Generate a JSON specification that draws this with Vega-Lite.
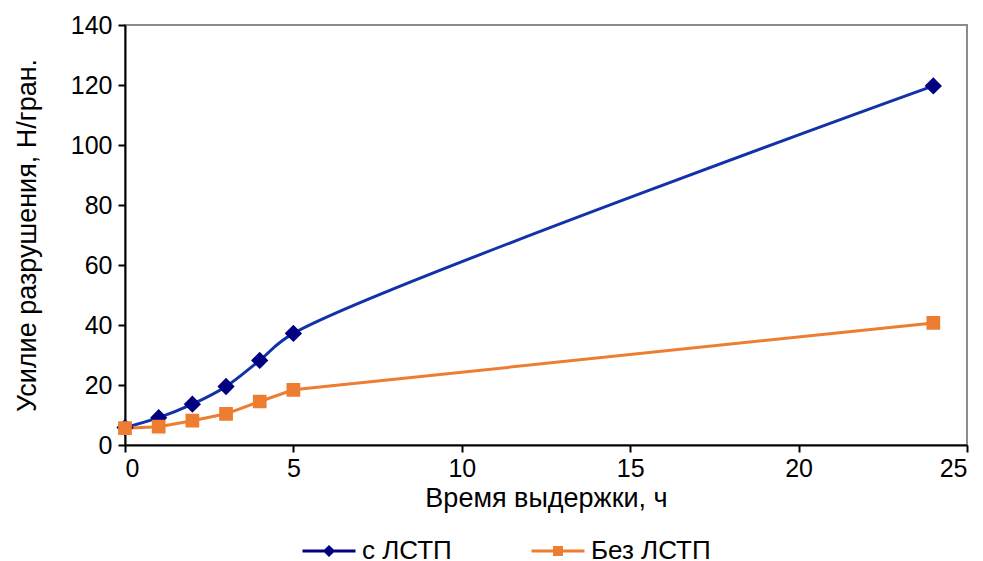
{
  "$schema": "https://vega.github.io/schema/vega-lite/v6.json",
  "width": 842,
  "height": 420,
  "autosize": {"type": "none"},
  "padding": {"left": 125, "top": 25, "right": 16, "bottom": 116},
  "background": "white",
  "config": {
    "font": "Liberation Sans",
    "view": {"stroke": "#8c8c8c", "strokeWidth": 2},
    "axis": {
      "grid": false,
      "domainColor": "black",
      "domainWidth": 2,
      "tickColor": "black",
      "tickWidth": 2,
      "tickSize": 7,
      "labelFont": "Liberation Sans",
      "labelFontSize": 25,
      "labelColor": "black",
      "titleFont": "Liberation Sans",
      "titleFontSize": 27,
      "titleFontWeight": "normal",
      "titleColor": "black"
    },
    "legend": {
      "labelFont": "Liberation Sans",
      "labelFontSize": 26,
      "labelColor": "black",
      "title": null,
      "orient": "none",
      "labelOffset": 5,
      "symbolSize": 2809,
      "symbolStrokeWidth": 3
    }
  },
  "data": {
    "values": [
      {"t": 0, "F": 5.8, "series": "с ЛСТП"},
      {"t": 1, "F": 9.1, "series": "с ЛСТП"},
      {"t": 2, "F": 13.6, "series": "с ЛСТП"},
      {"t": 3, "F": 19.5, "series": "с ЛСТП"},
      {"t": 4, "F": 28.2, "series": "с ЛСТП"},
      {"t": 5, "F": 37.2, "series": "с ЛСТП"},
      {"t": 24, "F": 119.7, "series": "с ЛСТП"},
      {"t": 0, "F": 5.6, "series": "Без ЛСТП"},
      {"t": 1, "F": 6.1, "series": "Без ЛСТП"},
      {"t": 2, "F": 8.1, "series": "Без ЛСТП"},
      {"t": 3, "F": 10.4, "series": "Без ЛСТП"},
      {"t": 4, "F": 14.5, "series": "Без ЛСТП"},
      {"t": 5, "F": 18.4, "series": "Без ЛСТП"},
      {"t": 24, "F": 40.7, "series": "Без ЛСТП"}
    ]
  },
  "encoding": {
    "x": {
      "field": "t",
      "type": "quantitative",
      "scale": {"domain": [0, 25], "nice": false},
      "axis": {"values": [0, 5, 10, 15, 20, 25], "title": "Время выдержки, ч", "titlePadding": 4, "labelPadding": 4}
    },
    "y": {
      "field": "F",
      "type": "quantitative",
      "scale": {"domain": [0, 140], "nice": false},
      "axis": {"values": [0, 20, 40, 60, 80, 100, 120, 140], "title": "Усилие разрушения, Н/гран.", "titlePadding": 29, "labelPadding": 6}
    }
  },
  "layer": [
    {
      "transform": [{"filter": "datum.series === 'с ЛСТП'"}],
      "mark": {"type": "line", "interpolate": "catmull-rom", "strokeWidth": 3, "stroke": "#1232a8"},
      "encoding": {}
    },
    {
      "transform": [{"filter": "datum.series === 'Без ЛСТП'"}],
      "mark": {"type": "line", "interpolate": "linear", "strokeWidth": 3, "stroke": "#ED7D31"},
      "encoding": {}
    },
    {
      "transform": [{"filter": "datum.series === 'с ЛСТП'"}],
      "mark": {"type": "point", "shape": "diamond", "filled": true, "opacity": 1, "size": 170, "stroke": "#000080", "strokeWidth": 3},
      "encoding": {
        "fill": {
          "field": "series",
          "type": "nominal",
          "scale": {"domain": ["с ЛСТП"], "range": ["#000080"]},
          "legend": {
            "legendX": 176,
            "legendY": 498,
            "symbolType": "M-1,0H1M0,-0.15L0.15,0L0,0.15L-0.15,0Z"
          }
        }
      }
    },
    {
      "transform": [{"filter": "datum.series === 'Без ЛСТП'"}],
      "mark": {"type": "point", "shape": "square", "filled": true, "opacity": 1, "size": 115, "stroke": "#ED7D31", "strokeWidth": 3},
      "encoding": {
        "fill": {
          "field": "series",
          "type": "nominal",
          "scale": {"domain": ["Без ЛСТП"], "range": ["#ED7D31"]},
          "legend": {
            "legendX": 405,
            "legendY": 498,
            "symbolType": "M-1,0H1M-0.13,-0.13H0.13V0.13H-0.13Z"
          }
        }
      }
    }
  ],
  "resolve": {"scale": {"fill": "independent"}, "legend": {"fill": "independent"}}
}
